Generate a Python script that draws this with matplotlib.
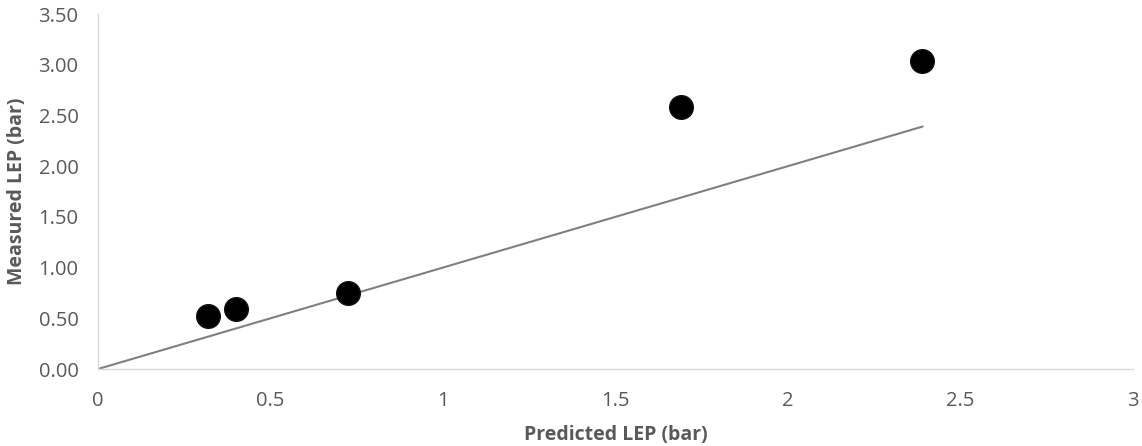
import matplotlib.pyplot as plt

# measured vs predicted LEP
predicted = [0.32, 0.40, 0.725, 1.69, 2.39]
measured = [0.52, 0.59, 0.745, 2.58, 3.035]
line_x = [0, 2.39]
line_y = [0, 2.39]

plt.rcParams['font.family'] = ['Open Sans', 'DejaVu Sans']
fig = plt.figure(figsize=(11.42, 4.46), dpi=100)
ax = fig.add_axes([0.0858, 0.1726, 0.9062, 0.796])

ax.plot(line_x, line_y, color='#808080', lw=1.5, zorder=2)
ax.scatter(predicted, measured, s=290, color='black', edgecolors='#111111', lw=1, zorder=3)

ax.set_xlim(0, 3)
ax.set_ylim(0, 3.5)
ax.set_xticks([0, 0.5, 1, 1.5, 2, 2.5, 3])
ax.set_xticklabels(['0', '0.5', '1', '1.5', '2', '2.5', '3'])
ax.set_yticks([0, 0.5, 1, 1.5, 2, 2.5, 3, 3.5])
ax.set_yticklabels(['%.2f' % v for v in [0, 0.5, 1, 1.5, 2, 2.5, 3, 3.5]])
ax.tick_params(length=0, labelsize=14.5, colors='#595959')
ax.tick_params(axis='y', pad=14)
ax.tick_params(axis='x', pad=16)

for s in ['top', 'right']:
    ax.spines[s].set_visible(False)
for s in ['left', 'bottom']:
    ax.spines[s].set_color('#d9d9d9')
    ax.spines[s].set_linewidth(1)

ax.set_xlabel('Predicted LEP (bar)', fontsize=14, fontweight='bold', color='#595959', labelpad=10)
ax.set_ylabel('Measured LEP (bar)', fontsize=14, fontweight='bold', color='#595959', labelpad=8)

fig.savefig('out.png', dpi=100)
